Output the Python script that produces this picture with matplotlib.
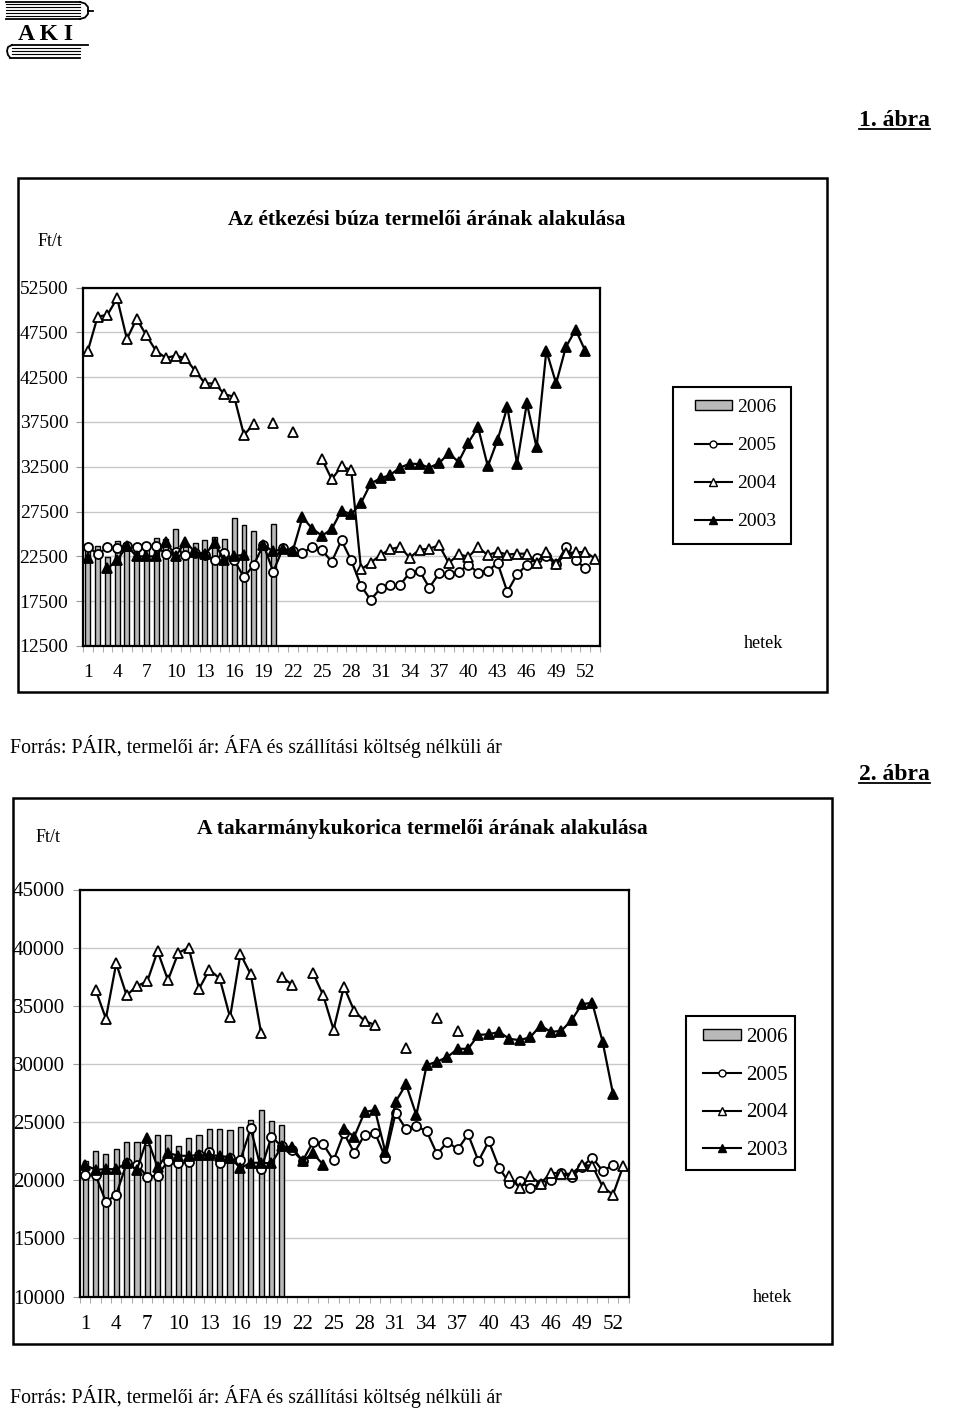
import numpy as np
import matplotlib.pyplot as plt
from matplotlib.patches import Rectangle
from matplotlib.lines import Line2D

plt.rcParams['font.family'] = ['Liberation Serif', 'DejaVu Serif']

W, H = 960, 1408
nan = np.nan

weeks = np.arange(1, 54)
x_labels = list(range(1, 53, 3))
years = ['2006', '2005', '2004', '2003']
forras = 'Forrás: PÁIR, termelői ár: ÁFA és szállítási költség nélküli ár'

# 1. ábra - étkezési búza, Ft/t
buza_2006 = [23200, 23700, 22400, 24200, 23700, 23700, 23400, 24500, 24400, 25500,
             24000, 24000, 24300, 24700, 24400, 26800, 26000, 25300, 23900, 26100]
buza_2005 = [23600, 22750, 23500, 23400, 23650, 23500, 23650, 23650, 22750, 23000,
             22650, 22900, 22650, 22100, 22900, 22100, 20150, 21550, 23800, 20800,
             23400, 23100, 22900, 23550, 23200, 21900, 24300, 22050, 19200, 17650,
             18950, 19300, 19300, 20700, 20900, 19000, 20600, 20500, 20750, 21550,
             20700, 20900, 21750, 18550, 20500, 21550, 22350, 22500, 21600, 23500,
             22100, 21150, nan]
buza_2004 = [45450, 49250, 49450, 51300, 46750, 49000, 47150, 45400, 44650, 44900,
             44600, 43200, 41800, 41800, 40600, 40300, 36050, 37250, nan, 37350,
             nan, 36350, nan, nan, 33350, 31100, 32550, 32100, 21050, 21800,
             22650, 23300, 23550, 22350, 23250, 23350, 23750, 21750, 22750, 22450,
             23500, 22650, 23000, 22700, 22800, 22800, 21800, 23000, 21600, 22850,
             22950, 23000, 22250]
buza_2003 = [22350, nan, 21150, 22050, 23650, 22500, 22500, 22500, 24150, 22500,
             24150, 22950, 22750, 23950, 22050, 22550, 22650, nan, 23800, 23050,
             23350, 23100, 26850, 25600, 24800, 25550, 27600, 27200, 28450, 30650,
             31200, 31600, 32400, 32850, 32800, 32400, 32900, 34000, 33050, 35200,
             36900, 32550, 35500, 39150, 32850, 39600, 34650, 45450, 41800, 45850,
             47800, 45400, nan]
buza_yticks = np.arange(12500, 52501, 5000)

# 2. ábra - takarmánykukorica, Ft/t
kuk_2006 = [21650, 22550, 22250, 22700, 23250, 23250, 23050, 23850, 23850, 22900,
            23600, 23900, 24400, 24400, 24300, 24550, 25200, 26000, 25050, 24750]
kuk_2005 = [20450, 20450, 18150, 18750, 21450, 21350, 20300, 20400, 21650, 21450,
            21600, 22150, 22400, 21500, 21900, 21750, 24450, 20950, 23750, 22900,
            22600, 21650, 23250, 23100, 21700, 24050, 22350, 23900, 24100, 21950,
            25800, 24400, 24650, 24200, 22250, 23300, 22650, 23950, 21650, 23350,
            21050, 19750, 19950, 19300, 19700, 20000, 20650, 20250, 21150, 21950,
            20800, 21300, nan]
kuk_2004 = [nan, 36400, 33900, 38650, 35900, 36700, 37100, 39700, 37200, 39550,
            40000, 36450, 38100, 37350, 34000, 39450, 37700, 32650, nan, 37500,
            36800, nan, 37850, 35900, 32950, 36650, 34550, 33700, 33350, nan,
            nan, 31350, nan, nan, 33950, nan, 32850, nan, nan, nan,
            nan, 20350, 19300, 20350, 19700, 20650, 20550, 20550, 21300, 21250,
            19450, 18750, 21250]
kuk_2003 = [21300, 20900, 20950, 20950, 21500, 20900, 23600, 21100, 22350, 22100,
            22100, 22150, 22150, 22100, 21950, 21050, 21500, 21500, 21450, 22900,
            22850, 21650, 22300, 21350, nan, 24400, 23750, 25850, 26050, 22450,
            26750, 28250, 25600, 29900, 30200, 30600, 31300, 31300, 32500, 32550,
            32750, 32150, 32050, 32300, 33300, 32750, 32850, 33750, 35150, 35250,
            31900, 27450, nan]
kuk_yticks = np.arange(10000, 45001, 5000)

BAR_COLOR = '#b9b9b9'

fig = plt.figure(figsize=(W / 100, H / 100), dpi=100)


def fx(px):
    return px / W


def fy(py):
    return 1 - py / H


def keret(x0, y0, x1, y1, lw=1.8):
    fig.add_artist(Rectangle((fx(x0), fy(y1)), (x1 - x0) / W, (y1 - y0) / H,
                             transform=fig.transFigure, fill=False,
                             edgecolor='black', lw=lw))


def vonal(xs, ys, lw=1.2):
    fig.add_artist(Line2D([fx(x) for x in xs], [fy(y) for y in ys],
                          transform=fig.transFigure, color='black', lw=lw))


def grafikon(pos, v2006, v2005, v2004, v2003, yticks, fs, xpad, ypad):
    left, top, right, bottom = pos
    ax = fig.add_axes([fx(left), fy(bottom), (right - left) / W, (bottom - top) / H])
    ax.bar(weeks[:len(v2006)], v2006, width=0.5, color=BAR_COLOR,
           edgecolor='black', lw=1.0, zorder=2)
    ax.plot(weeks, v2005, color='black', lw=1.6, marker='o', ms=6.5,
            mfc='white', mec='black', mew=1.3, zorder=3)
    ax.plot(weeks, v2004, color='black', lw=1.6, marker='^', ms=7,
            mfc='white', mec='black', mew=1.3, zorder=4)
    ax.plot(weeks, v2003, color='black', lw=1.6, marker='^', ms=7,
            mfc='black', mec='black', mew=1.3, zorder=5)
    ax.set_xlim(0.5, 53.5)
    ax.set_ylim(yticks[0], yticks[-1])
    ax.set_yticks(yticks)
    ax.set_yticklabels([str(v) for v in yticks], fontsize=fs)
    ax.set_xticks(x_labels)
    ax.set_xticklabels([str(v) for v in x_labels], fontsize=fs)
    ax.set_xticks(np.arange(0.5, 54, 1), minor=True)
    ax.tick_params(axis='x', which='major', length=0, pad=xpad)
    ax.tick_params(axis='x', which='minor', length=4, color='#999999', direction='out')
    ax.tick_params(axis='y', which='major', length=5, color='#999999', pad=ypad)
    ax.yaxis.grid(True, color='#c8c8c8', lw=1.0)
    ax.set_axisbelow(True)
    for s in ax.spines.values():
        s.set_color('black')
        s.set_linewidth(1.6)
    return ax


def jelmagyarazat(ax, anchor, fs, spacing, hlen):
    handles = [
        Rectangle((0, 0), 1, 1, facecolor=BAR_COLOR, edgecolor='black', lw=1.0),
        Line2D([], [], color='black', lw=1.5, marker='o', ms=5, mfc='white', mec='black'),
        Line2D([], [], color='black', lw=1.5, marker='^', ms=5.5, mfc='white', mec='black'),
        Line2D([], [], color='black', lw=1.5, marker='^', ms=5.5, mfc='black', mec='black'),
    ]
    ax.legend(handles, years, loc='upper left',
              bbox_to_anchor=(fx(anchor[0]), fy(anchor[1])),
              bbox_transform=fig.transFigure, frameon=False, borderpad=0,
              borderaxespad=0, labelspacing=spacing, handlelength=hlen,
              handleheight=0.45, handletextpad=0.25, fontsize=fs)


# --- logó ---
for y in [4, 7, 10, 13, 16]:
    vonal([6, 80], [y, y], lw=0.8)
vonal([6, 80], [2, 2], lw=1.3)
vonal([6, 80], [19, 19], lw=1.3)
vonal([80, 85, 88, 88, 85, 80], [2, 3.5, 7, 14, 17.5, 19], lw=1.3)
vonal([88, 93], [11, 11], lw=1.3)
fig.text(fx(45), fy(34), 'A K I', fontsize=17, fontweight='bold',
         ha='center', va='center')
vonal([12, 88], [45, 45], lw=1.3)
for y in [48, 51, 54]:
    vonal([12, 80], [y, y], lw=0.8)
vonal([10, 80], [57.5, 57.5], lw=1.3)
vonal([12, 8, 7, 8, 10], [45, 47, 51, 55, 57.5], lw=1.3)

# --- 1. ábra ---
keret(17.5, 177.5, 826.5, 691.5)
ax1 = grafikon((83, 287.5, 600, 646), buza_2006, buza_2005, buza_2004, buza_2003,
               buza_yticks, 14, 13, 5.5)
jelmagyarazat(ax1, (695, 399), 14, 1.08, 1.9)
keret(672.5, 387.5, 790.5, 543.5, lw=1.5)
fig.text(fx(50), fy(241), 'Ft/t', fontsize=13, ha='center', va='center')
fig.text(fx(427), fy(220), 'Az étkezési búza termelői árának alakulása',
         fontsize=15.5, fontweight='bold', ha='center', va='center')
fig.text(fx(764), fy(644), 'hetek', fontsize=13, ha='center', va='center')
fig.text(fx(10), fy(746), forras, fontsize=14.3, ha='left', va='center')

# --- 2. ábra ---
keret(12.5, 797.5, 831.5, 1343.5)
ax2 = grafikon((80, 889.5, 628.5, 1296.5), kuk_2006, kuk_2005, kuk_2004, kuk_2003,
               kuk_yticks, 15, 13.5, 6)
jelmagyarazat(ax2, (703, 1028), 15, 0.89, 1.8)
keret(686, 1015.5, 795, 1170, lw=1.5)
fig.text(fx(48), fy(838), 'Ft/t', fontsize=13, ha='center', va='center')
fig.text(fx(422), fy(829), 'A takarmánykukorica termelői árának alakulása',
         fontsize=15.5, fontweight='bold', ha='center', va='center')
fig.text(fx(773), fy(1298), 'hetek', fontsize=13, ha='center', va='center')
fig.text(fx(10), fy(1397), forras, fontsize=14.3, ha='left', va='center')

# --- ábraszámok aláhúzással ---
cimek = [fig.text(fx(930), fy(120), '1. ábra', fontsize=17, fontweight='bold',
                  ha='right', va='center'),
         fig.text(fx(930), fy(774), '2. ábra', fontsize=17, fontweight='bold',
                  ha='right', va='center')]
fig.canvas.draw()
renderer = fig.canvas.get_renderer()
for t in cimek:
    bb = t.get_window_extent(renderer)
    yl = bb.y0 + 2
    fig.add_artist(Line2D([bb.x0 / W, bb.x1 / W], [yl / H, yl / H],
                          transform=fig.transFigure, color='black', lw=1.3))

fig.savefig('out.png', dpi=100)
